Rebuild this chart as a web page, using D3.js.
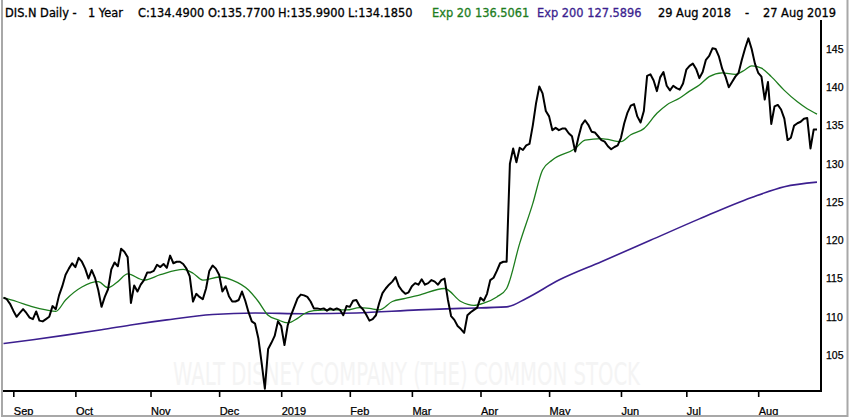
<!DOCTYPE html>
<html>
<head>
<meta charset="utf-8">
<script src="https://cdnjs.cloudflare.com/ajax/libs/d3/7.8.5/d3.min.js"></script>
<style>
  html, body { margin: 0; padding: 0; background: #fff; }
  svg { display: block; font-family: "DejaVu Sans", sans-serif; }
  .lbl { font-size: 10.5px; fill: #000; stroke: #000; stroke-width: 0.25px; }
  .mon { font-size: 11px; fill: #000; stroke: #000; stroke-width: 0.25px; }
  .ttl { font-size: 11.4px; stroke-width: 0.3px; }
</style>
</head>
<body>
<svg id="chart"></svg>
<script>
// daily closes, one per trading day, 29 Aug 2018 .. 27 Aug 2019
const closes = [
  112.5, 112.3, 111.7, 110.8, 110.0, 110.5, 111.0, 110.5, 109.9, 109.7,
  110.7, 109.5, 109.4, 109.7, 110.0, 111.4, 111.0, 112.8, 114.0, 115.5,
  116.3, 117.0, 116.5, 117.7, 117.2, 116.3, 115.0, 116.1, 115.1, 113.5,
  111.3, 112.6, 113.6, 116.2, 117.1, 116.6, 118.9, 118.5, 117.8, 111.8,
  114.1, 113.3, 114.2, 114.8, 115.8, 115.8, 116.0, 116.8, 116.5, 116.9,
  116.4, 118.0, 117.0, 117.2, 117.2, 116.9, 116.3, 115.3, 112.0, 113.0,
  112.6, 112.3, 113.7, 116.0, 116.7, 116.3, 115.5, 113.3, 114.0, 112.7,
  112.0, 112.0, 112.2, 113.3, 112.1, 110.6, 109.4, 109.1, 107.2, 104.0,
  100.6, 105.8, 106.6, 107.5, 109.4, 108.8, 106.3, 108.9, 110.2, 111.3,
  112.4, 112.9, 112.8, 112.6, 112.0, 111.1, 111.1, 111.0, 111.1, 110.8,
  111.1, 110.9, 111.1, 110.9, 110.2, 111.4, 111.3, 112.1, 112.2, 111.4,
  111.0, 110.3, 109.5, 109.7, 110.2, 111.8, 113.1, 113.7, 114.2, 114.6,
  115.2, 114.0, 113.4, 113.0, 113.2, 114.0, 114.4, 114.2, 114.9, 114.2,
  114.4, 114.8, 114.6, 114.2, 114.8, 115.0, 112.3, 110.1, 109.6, 108.8,
  108.4, 107.9, 110.2, 110.6, 110.9, 111.2, 112.5, 112.1, 113.0, 114.8,
  115.1, 116.0, 117.0, 117.2, 117.2, 130.0, 132.0, 130.2, 132.1, 131.8,
  132.4, 132.6, 135.0, 137.9, 140.1, 139.2, 136.9, 136.2, 134.4, 134.7,
  134.4, 134.6, 134.6, 134.0, 133.6, 131.6, 133.5, 135.1, 135.7, 135.1,
  134.2, 134.1, 133.6, 133.1, 132.9, 132.3, 131.9, 132.2, 132.4, 133.4,
  135.3, 136.7, 137.6, 137.8, 136.2, 135.4, 136.9, 141.5, 141.7, 140.9,
  139.5, 141.3, 142.0, 140.2, 139.6, 140.2, 139.9, 139.7, 140.5, 142.3,
  142.8, 143.1, 142.4, 141.2, 142.0, 143.6, 144.1, 145.1, 145.0, 144.0,
  142.4, 141.4, 140.0, 140.7, 141.4, 141.9, 143.6, 145.1, 146.4, 145.0,
  143.1, 141.9, 141.4, 138.4, 140.7, 135.2, 137.5, 137.7, 137.1, 135.9,
  133.1, 133.4, 135.0, 135.3, 135.5, 135.9, 136.0, 132.0, 134.5, 134.49
];

// Exp 20 (trading-day index, value)
const ema20Idx = [0, 4, 9, 13, 16, 19, 24, 29, 32, 35, 38, 43, 48, 55, 58, 61, 66, 70, 75, 78,
  81, 84, 87, 90, 92, 95, 100, 105, 109, 112, 115, 119, 123, 127, 135, 140, 144, 147, 151, 154,
  158, 162, 165, 168, 175, 178, 183, 189, 192, 196, 200, 203, 207, 210, 213, 216, 220, 224, 227,
  229, 232, 235, 239, 243, 246, 249];
const ema20Val = [112.5, 112.0, 111.3, 110.9, 110.7, 112.2, 113.9, 114.6, 113.8, 114.6, 115.6, 114.8,
  115.5, 116.2, 115.7, 114.8, 115.2, 114.8, 113.5, 112.0, 110.2, 109.6, 109.2, 109.8, 110.4, 110.8,
  110.9, 110.9, 111.2, 111.1, 110.9, 112.0, 112.4, 112.8, 113.7, 112.0, 111.5, 111.8, 112.6, 113.7,
  119.6, 124.8, 129.2, 130.5, 132.0, 133.1, 133.3, 132.9, 133.8, 134.6, 136.6, 137.7, 138.6, 139.5,
  140.3, 141.4, 141.9, 141.7, 142.3, 142.8, 142.5, 141.4, 139.6, 138.1, 137.2, 136.5];

// Exp 200
const ema200Idx = [0, 9, 19, 30, 40, 50, 64, 77, 92, 108, 127, 140, 154, 160, 170, 183, 198, 213, 229, 239, 249];
const ema200Val = [106.5, 107.0, 107.6, 108.3, 109.0, 109.6, 110.3, 110.5, 110.4, 110.5, 110.9, 111.1,
  111.3, 112.4, 114.8, 117.2, 120.0, 122.8, 125.6, 127.0, 127.6];

const monthLabels = ["Sep", "Oct", "Nov", "Dec", "2019", "Feb", "Mar", "Apr", "May", "Jun", "Jul", "Aug"];
const monthIdx = [3, 22, 45, 66, 85, 106, 125, 146, 167, 189, 209, 231];
const priceTicks = [105, 110, 115, 120, 125, 130, 135, 140, 145];

const titleParts = ["DIS.N Daily -", "1 Year", "C:134.4900", "O:135.7700", "H:135.9900", "L:134.1850",
  "Exp 20 136.5061", "Exp 200 127.5896", "29 Aug 2018", "-", "27 Aug 2019"];

const w = 850;
const h = 417;
const green = "#1d7d1d";
const purple = "#3c1f8f";

const svg = d3.select("#chart").attr("width", w).attr("height", h);
svg.append("rect").attr("width", w).attr("height", h).attr("fill", "#fff");

const plot = { left: 3, right: 821, top: 20, bottom: 391 };

const x = d3.scaleLinear().domain([0, closes.length - 1]).range([3.5, 817]);
const y = d3.scaleLinear().domain([100.3, 148.8]).range([plot.bottom, plot.top]);

svg.append("clipPath").attr("id", "clip")
  .append("rect")
  .attr("x", plot.left).attr("y", plot.top)
  .attr("width", plot.right - plot.left).attr("height", plot.bottom - plot.top);

// watermark
svg.append("text")
  .attr("transform", "translate(173,385) scale(1,1.6)")
  .attr("textLength", 467).attr("lengthAdjust", "spacingAndGlyphs")
  .style("font-size", "19.4px")
  .attr("fill", "#f4f4f4")
  .text("WALT DISNEY COMPANY (THE) COMMON STOCK");

const g = svg.append("g").attr("clip-path", "url(#clip)");

const smooth = d3.line().x((d) => x(d[0])).y((d) => y(d[1])).curve(d3.curveMonotoneX);

g.append("path")
  .datum(ema200Idx.map((d, i) => [d, ema200Val[i]]))
  .attr("fill", "none").attr("stroke", purple).attr("stroke-width", 1.6)
  .attr("d", smooth);

g.append("path")
  .datum(ema20Idx.map((d, i) => [d, ema20Val[i]]))
  .attr("fill", "none").attr("stroke", green).attr("stroke-width", 1.3)
  .attr("d", smooth);

g.append("path")
  .datum(closes)
  .attr("fill", "none").attr("stroke", "#000").attr("stroke-width", 2)
  .attr("stroke-linejoin", "round")
  .attr("d", d3.line().x((d, i) => x(i)).y((d) => y(d)));

// axes
const xAxis = d3.axisBottom(x)
  .tickValues(monthIdx)
  .tickSize(6)
  .tickPadding(10)
  .tickFormat((d, i) => monthLabels[i]);
const xg = svg.append("g")
  .attr("transform", "translate(0," + plot.bottom + ")")
  .call(xAxis);
xg.select(".domain").remove();
xg.selectAll(".tick line").attr("stroke", "#000").attr("stroke-width", 1.6);
xg.selectAll(".tick text").attr("class", "mon").attr("text-anchor", "start").attr("x", 0);

const yAxis = d3.axisRight(y).tickValues(priceTicks).tickSize(0).tickPadding(5);
const yg = svg.append("g")
  .attr("transform", "translate(" + plot.right + ",0)")
  .call(yAxis);
yg.select(".domain").remove();
yg.selectAll(".tick text").attr("class", "lbl");

svg.append("line")
  .attr("x1", plot.left).attr("x2", plot.right + 1)
  .attr("y1", plot.bottom).attr("y2", plot.bottom)
  .attr("stroke", "#000").attr("stroke-width", 2);
svg.append("line")
  .attr("x1", plot.right).attr("x2", plot.right)
  .attr("y1", plot.top).attr("y2", plot.bottom)
  .attr("stroke", "#000").attr("stroke-width", 2);

// outer frame
svg.append("path")
  .attr("d", "M2,0V416H847.5V0")
  .attr("fill", "none").attr("stroke", "#a8a8a8").attr("stroke-width", 2);

// title line
const titleX = [5, 88, 138, 208, 278, 348, 432, 537, 658, 745, 763];
const titleColor = ["#000", "#000", "#000", "#000", "#000", "#000", green, purple, "#000", "#000", "#000"];
svg.append("g")
  .selectAll("text")
  .data(titleParts)
  .enter()
  .append("text")
  .attr("class", "ttl")
  .attr("x", (d, i) => titleX[i])
  .attr("y", 16.5)
  .style("fill", (d, i) => titleColor[i])
  .style("stroke", (d, i) => titleColor[i])
  .text((d) => d);
</script>
</body>
</html>
